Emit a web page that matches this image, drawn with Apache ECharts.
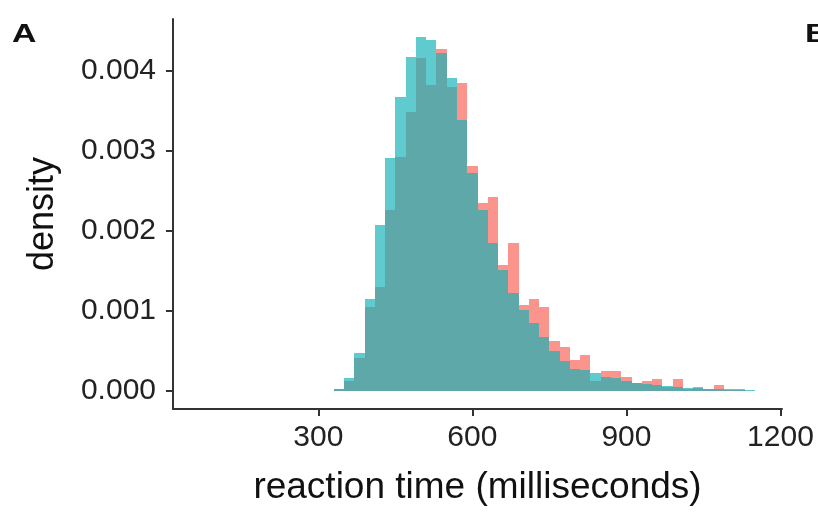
<!DOCTYPE html>
<html>
<head>
<meta charset="utf-8">
<title>reaction time histogram</title>
<script src="https://cdn.jsdelivr.net/npm/echarts@6/dist/echarts.min.js"></script>
<style>
  html, body { margin: 0; padding: 0; background: #fff; }
  #chart { width: 818px; height: 512px; }
</style>
</head>
<body>
<div id="chart"></div>
<script>
// bin lower edges (ms), every bin is 20 ms wide
const binStarts = [330, 350, 370, 390, 410, 430, 450, 470, 490, 510,
  530, 550, 570, 590, 610, 630, 650, 670, 690, 710,
  730, 750, 770, 790, 810, 830, 850, 870, 890, 910,
  930, 950, 970, 990, 1010, 1030, 1050, 1070, 1090, 1110, 1130];
const binWidth = 20;

// density of the red group
const redDensity = [0.00002, 0.00012, 0.00041, 0.00105, 0.00130, 0.00226, 0.00293, 0.00349, 0.00416, 0.00383,
  0.00428, 0.00380, 0.00385, 0.00281, 0.00235, 0.00242, 0.00158, 0.00185, 0.00108, 0.00115,
  0.00105, 0.00062, 0.00055, 0.00039, 0.00045, 0.00012, 0.00025, 0.00025, 0.00018, 0.00010,
  0.00012, 0.00015, 0.00005, 0.00015, 0.00003, 0.00005, 0.00002, 0.00008, 0.00001, 0.00001, 0];

// density of the cyan group
const cyanDensity = [0.00002, 0.00016, 0.00048, 0.00115, 0.00208, 0.00291, 0.00368, 0.00418, 0.00442, 0.00439,
  0.00422, 0.00391, 0.00339, 0.00272, 0.00226, 0.00185, 0.00151, 0.00122, 0.00101, 0.00085,
  0.00068, 0.00050, 0.00038, 0.00028, 0.00026, 0.00022, 0.00018, 0.00016, 0.00012, 0.00010,
  0.00009, 0.00007, 0.00006, 0.00005, 0.00004, 0.00004, 0.00003, 0.00003, 0.00002, 0.00002, 0.00001];

const xTicks = [300, 600, 900, 1200];
const yTicks = [0, 0.001, 0.002, 0.003, 0.004];

const FONT = 'Liberation Sans, Arial, sans-serif';
const RED = 'rgba(248, 118, 109, 0.78)';
const CYAN = 'rgba(20, 178, 184, 0.68)';

// [start, end, density] rows for the custom series
const toRows = vals => binStarts.map((s, i) => [s, s + binWidth, vals[i]]);

// snap bar edges to whole pixels so neighbouring bins don't show seams
const histItem = color => (params, api) => {
  const top = api.coord([api.value(0), api.value(2)]);
  const bottom = api.coord([api.value(1), 0]);
  const x0 = Math.round(top[0]), x1 = Math.round(bottom[0]);
  const y0 = Math.round(top[1]), y1 = Math.round(bottom[1]);
  return {
    type: 'rect',
    shape: { x: x0, y: y0, width: x1 - x0, height: y1 - y0 },
    style: { fill: color }
  };
};

const axisLineStyle = { color: '#333', width: 2 };

const chart = echarts.init(document.getElementById('chart'));
chart.setOption({
  animation: false,
  grid: { left: 173, right: 36, top: 19, bottom: 103, outerBoundsMode: 'none' },
  xAxis: {
    type: 'value',
    min: 17, max: 1203,
    name: 'reaction time (milliseconds)',
    nameLocation: 'middle',
    nameGap: 60,
    nameTextStyle: { fontFamily: FONT, fontSize: 37, color: '#111' },
    axisLine: { show: true, onZero: false, lineStyle: axisLineStyle },
    axisTick: { show: true, length: 7, lineStyle: axisLineStyle, customValues: xTicks },
    axisLabel: {
      fontFamily: FONT, fontSize: 30, color: '#222', margin: 14,
      customValues: xTicks,
      formatter: v => String(v)
    },
    splitLine: { show: false }
  },
  yAxis: {
    type: 'value',
    min: -0.000225, max: 0.00465,
    name: 'density',
    nameLocation: 'middle',
    nameGap: 112,
    nameTextStyle: { fontFamily: FONT, fontSize: 36, color: '#111' },
    axisLine: { show: true, onZero: false, lineStyle: axisLineStyle },
    axisTick: { show: true, length: 7, lineStyle: axisLineStyle, customValues: yTicks },
    axisLabel: {
      fontFamily: FONT, fontSize: 30, color: '#222', margin: 17,
      customValues: yTicks,
      formatter: v => v.toFixed(3)
    },
    splitLine: { show: false }
  },
  series: [
    { type: 'custom', renderItem: histItem(RED), data: toRows(redDensity) },
    { type: 'custom', renderItem: histItem(CYAN), data: toRows(cyanDensity) }
  ],
  graphic: [
    {
      type: 'text', x: 12, y: 22, scaleX: 1.3,
      style: { text: 'A', font: "bold 26px 'Liberation Sans'", fill: '#111' }
    },
    {
      type: 'text', x: 805, y: 22, scaleX: 1.3,
      style: { text: 'B', font: "bold 26px 'Liberation Sans'", fill: '#111' }
    }
  ]
});
</script>
</body>
</html>
